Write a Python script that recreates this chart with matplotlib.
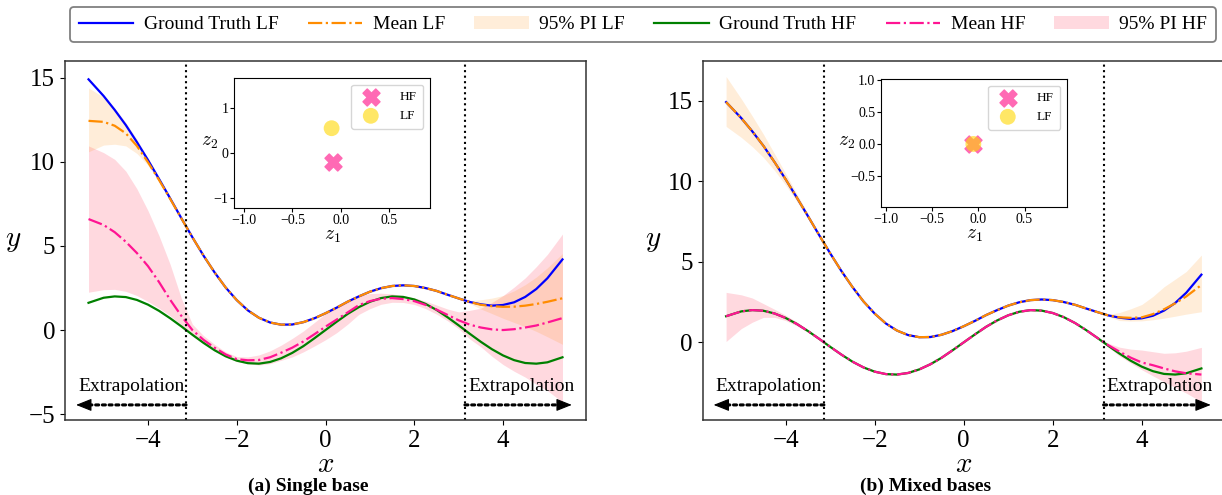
import numpy as np
import matplotlib
matplotlib.use("Agg")
import matplotlib.pyplot as plt
from matplotlib.transforms import blended_transform_factory

plt.rcParams["font.family"] = "serif"
plt.rcParams["font.serif"] = ["Liberation Serif", "DejaVu Serif"]
plt.rcParams["mathtext.fontset"] = "cm"

# sample locations along x
x_pts = [-5.34, -5.0, -4.75, -4.5, -4.25, -4.0, -3.75, -3.5, -3.25, -3.0, -2.75, -2.5,
         -2.25, -2.0, -1.75, -1.5, -1.25, -1.0, -0.75, -0.5, -0.25, 0.0, 0.25, 0.5,
         0.75, 1.0, 1.25, 1.5, 1.75, 2.0, 2.25, 2.5, 2.75, 3.0, 3.25, 3.5, 3.75, 4.0,
         4.25, 4.5, 4.75, 5.0, 5.34]

# ground truth functions
lf_true = [14.91, 13.92, 13.09, 12.19, 11.18, 10.11, 8.98, 7.83, 6.66, 5.52, 4.43, 3.43,
           2.53, 1.78, 1.17, 0.73, 0.45, 0.32, 0.33, 0.47, 0.70, 1.00, 1.33, 1.69,
           2.00, 2.28, 2.49, 2.62, 2.66, 2.62, 2.50, 2.33, 2.10, 1.88, 1.67, 1.53, 1.45, 1.49,
           1.65, 1.97, 2.44, 3.08, 4.20]
hf_true = [1.62, 1.92, 2.00, 1.96, 1.79, 1.51, 1.14, 0.70, 0.22, -0.28, -0.76, -1.20,
           -1.56, -1.82, -1.97, -2.00, -1.90, -1.68, -1.36, -0.96, -0.49, 0.00, 0.49, 0.96,
           1.36, 1.68, 1.90, 2.00, 1.97, 1.82, 1.56, 1.20, 0.76, 0.28, -0.22, -0.70, -1.14, -1.51,
           -1.79, -1.96, -2.00, -1.92, -1.62]

# (a) single base: predictive mean and 95% interval
lf_mean_a = [12.44, 12.38, 12.15, 11.70, 10.95, 9.98, 8.92, 7.80, 6.65, 5.52, 4.43, 3.43,
             2.53, 1.78, 1.17, 0.73, 0.45, 0.32, 0.33, 0.47, 0.70, 1.00, 1.33, 1.69,
             2.00, 2.28, 2.49, 2.62, 2.66, 2.62, 2.50, 2.33, 2.10, 1.88, 1.67, 1.50, 1.42, 1.38,
             1.39, 1.45, 1.55, 1.68, 1.89]
lf_lo_a = [10.60, 11.00, 11.05, 10.95, 10.50, 9.80, 8.80, 7.72, 6.60, 5.46, 4.37, 3.37,
           2.47, 1.72, 1.11, 0.67, 0.39, 0.26, 0.27, 0.41, 0.64, 0.94, 1.27, 1.63,
           1.94, 2.22, 2.43, 2.56, 2.60, 2.56, 2.44, 2.27, 2.04, 1.82, 1.58, 1.25, 0.98, 0.70,
           0.45, 0.20, -0.08, -0.40, -0.85]
lf_hi_a = [14.40, 13.85, 13.20, 12.35, 11.35, 10.20, 9.05, 7.90, 6.72, 5.58, 4.49, 3.49,
           2.59, 1.84, 1.23, 0.79, 0.51, 0.38, 0.39, 0.53, 0.76, 1.06, 1.39, 1.75,
           2.06, 2.34, 2.55, 2.68, 2.72, 2.68, 2.56, 2.39, 2.16, 1.94, 1.75, 1.80, 1.90, 2.05,
           2.33, 2.70, 3.15, 3.70, 4.55]
hf_mean_a = [6.60, 6.25, 5.82, 5.25, 4.58, 3.80, 2.85, 1.80, 0.85, 0.00, -0.58, -1.05,
             -1.45, -1.73, -1.80, -1.78, -1.62, -1.35, -1.05, -0.68, -0.25, 0.20, 0.62, 1.05,
             1.48, 1.72, 1.86, 1.90, 1.84, 1.72, 1.50, 1.22, 0.90, 0.58, 0.32, 0.15, 0.04, 0.00,
             0.05, 0.15, 0.27, 0.45, 0.71]
hf_lo_a = [2.25, 2.40, 2.42, 2.30, 2.05, 1.70, 1.30, 0.85, 0.30, -0.35, -0.83, -1.25,
           -1.60, -1.88, -2.00, -2.08, -2.00, -1.80, -1.60, -1.30, -0.95, -0.58, -0.16, 0.35,
           0.93, 1.27, 1.53, 1.65, 1.64, 1.52, 1.28, 0.95, 0.55, 0.08, -0.53, -1.00, -1.56, -2.05,
           -2.45, -2.80, -3.23, -3.60, -4.29]
hf_hi_a = [10.95, 10.55, 10.15, 9.45, 8.40, 7.10, 5.60, 3.90, 1.90, 0.35, -0.33, -0.85,
           -1.30, -1.58, -1.60, -1.48, -1.24, -0.90, -0.50, -0.06, 0.45, 0.98, 1.40, 1.75,
           2.03, 2.17, 2.19, 2.15, 2.04, 1.92, 1.72, 1.49, 1.25, 1.08, 1.17, 1.30, 1.64, 2.05,
           2.55, 3.10, 3.77, 4.50, 5.71]

# (b) mixed bases
lf_mean_b = [14.91, 13.92, 13.09, 12.19, 11.18, 10.11, 8.98, 7.83, 6.66, 5.52, 4.43, 3.43,
             2.53, 1.78, 1.17, 0.73, 0.45, 0.32, 0.33, 0.47, 0.70, 1.00, 1.33, 1.69,
             2.00, 2.28, 2.49, 2.62, 2.66, 2.62, 2.50, 2.33, 2.10, 1.88, 1.67, 1.55, 1.52, 1.55,
             1.75, 2.05, 2.42, 2.85, 3.56]
lf_lo_b = [13.40, 12.72, 12.14, 11.47, 10.66, 9.75, 8.74, 7.68, 6.58, 5.47, 4.38, 3.38,
           2.48, 1.73, 1.12, 0.68, 0.40, 0.27, 0.28, 0.42, 0.65, 0.95, 1.28, 1.64,
           1.95, 2.23, 2.44, 2.57, 2.61, 2.57, 2.45, 2.28, 2.05, 1.83, 1.60, 1.35, 1.32, 1.33,
           1.40, 1.50, 1.62, 1.75, 1.90]
lf_hi_b = [16.50, 15.12, 14.04, 12.91, 11.70, 10.47, 9.22, 7.98, 6.74, 5.57, 4.48, 3.48,
           2.58, 1.83, 1.22, 0.78, 0.50, 0.37, 0.38, 0.52, 0.75, 1.05, 1.38, 1.74,
           2.05, 2.33, 2.54, 2.67, 2.71, 2.67, 2.55, 2.38, 2.15, 1.93, 1.74, 1.85, 2.08, 2.35,
           2.85, 3.45, 3.92, 4.40, 5.42]
hf_mean_b = [1.62, 1.92, 2.00, 1.96, 1.79, 1.51, 1.14, 0.70, 0.22, -0.28, -0.76, -1.20,
             -1.56, -1.82, -1.97, -2.00, -1.90, -1.68, -1.36, -0.96, -0.49, 0.00, 0.49, 0.96,
             1.36, 1.68, 1.90, 2.00, 1.97, 1.82, 1.56, 1.20, 0.76, 0.28, -0.18, -0.58, -0.95, -1.25,
             -1.42, -1.62, -1.80, -1.92, -2.00]
hf_lo_b = [0.05, 0.85, 1.25, 1.55, 1.55, 1.35, 1.02, 0.62, 0.16, -0.33, -0.81, -1.25,
           -1.61, -1.87, -2.02, -2.05, -1.95, -1.73, -1.41, -1.01, -0.54, -0.05, 0.44, 0.91,
           1.31, 1.63, 1.85, 1.95, 1.92, 1.77, 1.51, 1.15, 0.71, 0.23, -0.30, -0.85, -1.28, -1.70,
           -2.08, -2.45, -2.80, -3.15, -3.69]
hf_hi_b = [3.10, 2.95, 2.75, 2.40, 2.05, 1.68, 1.26, 0.78, 0.28, -0.23, -0.71, -1.15,
           -1.51, -1.77, -1.92, -1.95, -1.85, -1.63, -1.31, -0.91, -0.44, 0.05, 0.54, 1.01,
           1.41, 1.73, 1.95, 2.05, 2.02, 1.87, 1.61, 1.25, 0.81, 0.33, -0.06, -0.30, -0.42, -0.48,
           -0.58, -0.68, -0.65, -0.55, -0.31]

# latent variables of each fidelity
z_hf_a = (-0.08, -0.19)
z_lf_a = (-0.093, 0.56)
z_hf_b = (-0.054, 0.0)
z_lf_b = (-0.054, 0.0)

train_edge = np.pi

W, H = 1222, 495
fig = plt.figure(figsize=(W / 100, H / 100), dpi=100)


def px_rect(x0, y0, x1, y1):
    return [x0 / W, (H - y1) / H, (x1 - x0) / W, (y1 - y0) / H]


def panel(rect, lf_mean, lf_lo, lf_hi, hf_mean, hf_lo, hf_hi, ylim, caption, cap_x):
    ax = fig.add_axes(px_rect(*rect))
    h1, = ax.plot(x_pts, lf_true, color="blue", lw=1.6, label="Ground Truth LF")
    h2, = ax.plot(x_pts, lf_mean, color="darkorange", ls="-.", lw=1.6, label="Mean LF")
    h4, = ax.plot(x_pts, hf_true, color="green", lw=1.6, label="Ground Truth HF")
    h5, = ax.plot(x_pts, hf_mean, color="deeppink", ls="-.", lw=1.6, label="Mean HF")
    h6 = ax.fill_between(x_pts, hf_lo, hf_hi, color="pink", alpha=0.6, lw=0, label="95% PI HF")
    h3 = ax.fill_between(x_pts, lf_lo, lf_hi, color="darkorange", alpha=0.15, lw=0, label="95% PI LF")
    for xv in (-train_edge, train_edge):
        ax.axvline(xv, color="k", ls=":", lw=1.5)
    ax.set_xlim(-5.87, 5.87)
    ax.set_ylim(*ylim)
    ax.set_xticks([-4, -2, 0, 2, 4])
    ax.tick_params(labelsize=18)
    for s in ax.spines.values():
        s.set_color("0.2")
        s.set_linewidth(1.1)
    ax.set_xlabel("$x$", fontsize=21, labelpad=0)
    ax.set_ylabel("$y$", fontsize=21, rotation=0, ha="right", va="center", labelpad=5)

    # extrapolation arrows: dotted shaft plus a solid head
    tr = blended_transform_factory(ax.transData, ax.transAxes)
    for x0, x1 in ((-train_edge, -5.62), (train_edge, 5.55)):
        sgn = np.sign(x1)
        ax.annotate("", xy=(x1 - 0.2 * sgn, 0.042), xytext=(x0, 0.042), xycoords=tr, textcoords=tr,
                    arrowprops=dict(arrowstyle="-", ls=(0, (1.0, 1.2)), lw=2.2, color="k",
                                    shrinkA=0, shrinkB=0))
        ax.annotate("", xy=(x1, 0.042), xytext=(x1 - 0.25 * sgn, 0.042), xycoords=tr, textcoords=tr,
                    arrowprops=dict(arrowstyle="-|>,head_length=0.8,head_width=0.32", lw=0.8,
                                    color="k", mutation_scale=12, shrinkA=0, shrinkB=0))
        ax.text((x0 + x1) / 2 + (0.06 if x0 > 0 else 0.0), 0.092, "Extrapolation", transform=tr,
                ha="center", va="center", fontsize=14)
    fig.text(cap_x / W, 0.017, caption, ha="center", va="center", fontsize=14, fontweight="bold")
    return ax, [h1, h2, h3, h4, h5, h6]


def inset(rect, z_hf, z_lf, xlim, ylim, yticks):
    ax = fig.add_axes(px_rect(*rect))
    ax.scatter([z_hf[0]], [z_hf[1]], marker="X", s=150, color="hotpink", label="HF")
    ax.scatter([z_lf[0]], [z_lf[1]], marker="o", s=130, color="gold", alpha=0.6,
               edgecolors="none", label="LF")
    ax.set_xlim(*xlim)
    ax.set_ylim(*ylim)
    ax.set_xticks([-1.0, -0.5, 0.0, 0.5])
    ax.set_yticks(yticks)
    ax.tick_params(labelsize=10, length=3, pad=1)
    ax.set_xlabel("$z_1$", fontsize=14, labelpad=1)
    ax.set_ylabel("$z_2$", fontsize=14, rotation=0, ha="right", va="center", labelpad=-3)
    ax.legend(loc="upper right", fontsize=9.5, handletextpad=1.2, borderpad=0.5, labelspacing=0.5)
    return ax


ax_a, handles = panel((65, 61, 586, 420), lf_mean_a, lf_lo_a, lf_hi_a, hf_mean_a, hf_lo_a, hf_hi_a,
                      (-5.35, 16.0), "(a) Single base", 308)
ax_b, _ = panel((702.5, 61, 1225, 420), lf_mean_b, lf_lo_b, lf_hi_b, hf_mean_b, hf_lo_b, hf_hi_b,
                (-4.82, 17.46), "(b) Mixed bases", 926)

inset((234, 78, 430, 208), z_hf_a, z_lf_a, (-1.105, 0.927), (-1.22, 1.68), [-1, 0, 1])
inset((881, 79, 1067, 207), z_hf_b, z_lf_b, (-1.054, 0.96), (-0.99, 1.02), [-0.5, 0.0, 0.5, 1.0])

leg = fig.legend(handles, [h.get_label() for h in handles], loc="upper center",
                 bbox_to_anchor=(643 / W, 1 - 7 / H), ncol=6, fontsize=14,
                 handlelength=2.8, handletextpad=0.55, columnspacing=1.5,
                 fancybox=True, framealpha=1, borderpad=0.45, borderaxespad=0)
leg.get_frame().set_edgecolor("0.5")
leg.get_frame().set_linewidth(1.3)

fig.savefig("out.png", dpi=100)
